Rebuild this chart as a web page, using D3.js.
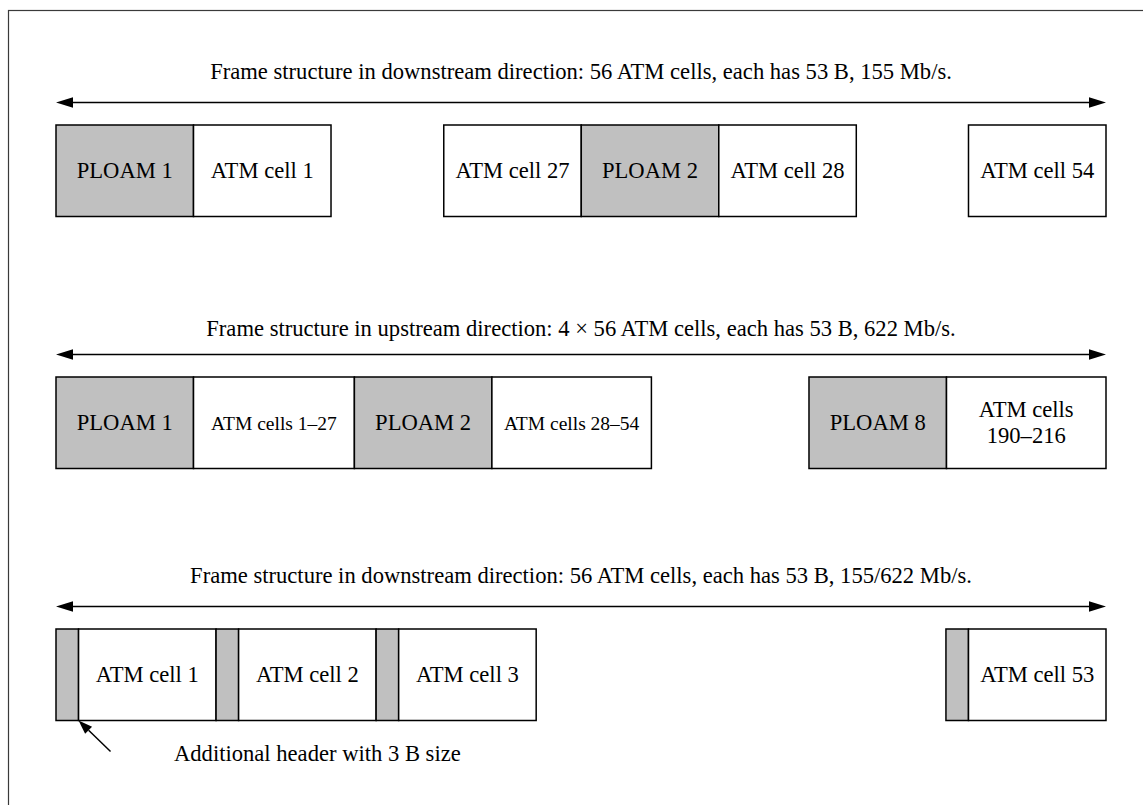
<!DOCTYPE html>
<html>
<head>
<meta charset="utf-8">
<script src="https://cdn.jsdelivr.net/npm/d3@7"></script>
<style>
  html, body { margin: 0; padding: 0; background: #fff; }
  svg { display: block; font-family: "Liberation Serif", "Times New Roman", serif; }
</style>
</head>
<body>
<div id="frames"></div>
<script>
// frame structure diagram: three rows of cells, widths in "cell" units (one ATM cell = 1)

const rowTitles = [
  'Frame structure in downstream direction: 56 ATM cells, each has 53 B, 155 Mb/s.',
  'Frame structure in upstream direction: 4 \u00d7 56 ATM cells, each has 53 B, 622 Mb/s.',
  'Frame structure in downstream direction: 56 ATM cells, each has 53 B, 155/622 Mb/s.',
];

// kind: p = PLOAM / header (grey), c = cell (white), g = gap (nothing drawn)
const row1Labels = ['PLOAM 1', 'ATM cell 1', '', 'ATM cell 27', 'PLOAM 2', 'ATM cell 28', '', 'ATM cell 54'];
const row1Kinds = ['p', 'c', 'g', 'c', 'p', 'c', 'g', 'c'];
const row1Widths = [1, 1, 0.82, 1, 1, 1, 0.816, 1];

const row2Labels = ['PLOAM 1', 'ATM cells 1\u201327', 'PLOAM 2', 'ATM cells 28\u201354', '', 'PLOAM 8', 'ATM cells|190\u2013216'];
const row2Kinds = ['p', 'c', 'p', 'c', 'g', 'p', 'c'];
const row2Widths = [1, 1.17, 1, 1.16, 1.146, 1, 1.16];

const row3Labels = ['', 'ATM cell 1', '', 'ATM cell 2', '', 'ATM cell 3', '', '', 'ATM cell 53'];
const row3Kinds = ['p', 'c', 'p', 'c', 'p', 'c', 'g', 'p', 'c'];
const row3Widths = [0.164, 1, 0.164, 1, 0.164, 1, 2.98, 0.164, 1];

const noteText = 'Additional header with 3 B size';

const W = 1143, H = 805;
const totalUnits = d3.sum(row1Widths);
const x = d3.scaleLinear().domain([0, totalUnits]).range([56, 1106]);
const y = d3.scaleLinear().domain([0, 2]).range([125, 629]);
const boxH = 91.5;
const fs = 22.6;

const svg = d3.select('#frames').append('svg')
  .attr('width', W)
  .attr('height', H);

// outer border (runs off the right and bottom edges)
svg.append('rect')
  .attr('x', 8.5).attr('y', 10.5)
  .attr('width', 1200).attr('height', 900)
  .attr('fill', 'none')
  .attr('stroke', '#3a3a3a')
  .attr('stroke-width', 1.2);

function buildRow(labels, kinds, widths) {
  let acc = 0;
  return labels.map((label, i) => {
    const seg = { label: label, kind: kinds[i], start: acc, width: widths[i] };
    acc += widths[i];
    return seg;
  });
}

const rows = [
  buildRow(row1Labels, row1Kinds, row1Widths),
  buildRow(row2Labels, row2Kinds, row2Widths),
  buildRow(row3Labels, row3Kinds, row3Widths),
];

function arrowHead(g, tipX, tipY, dir) {
  // dir = -1 points left, +1 points right
  const len = 17, half = 5.2;
  g.append('path')
    .attr('d', 'M' + tipX + ',' + tipY +
      'L' + (tipX - dir * len) + ',' + (tipY - half) +
      'L' + (tipX - dir * len) + ',' + (tipY + half) + 'Z')
    .attr('fill', '#000');
}

rows.forEach((segs, r) => {
  const top = y(r);
  const g = svg.append('g');

  // title
  g.append('text')
    .attr('x', (x(0) + x(totalUnits)) / 2)
    .attr('y', top - (r === 1 ? 41 : 46.5))
    .attr('text-anchor', 'middle')
    .attr('font-size', fs)
    .attr('fill', '#000')
    .text(rowTitles[r]);

  // double-headed arrow
  const ay = top - 22.5;
  g.append('line')
    .attr('x1', x(0) + 10).attr('x2', x(totalUnits) - 10)
    .attr('y1', ay).attr('y2', ay)
    .attr('stroke', '#000')
    .attr('stroke-width', 1.5);
  arrowHead(g, x(0), ay, -1);
  arrowHead(g, x(totalUnits), ay, 1);

  const boxes = segs.filter(d => d.kind !== 'g');
  g.selectAll('rect.seg')
    .data(boxes)
    .join('rect')
    .attr('class', 'seg')
    .attr('x', d => x(d.start))
    .attr('y', top)
    .attr('width', d => x(d.start + d.width) - x(d.start))
    .attr('height', boxH)
    .attr('fill', d => d.kind === 'p' ? '#c0c0c0' : '#fff')
    .attr('stroke', '#000')
    .attr('stroke-width', 1.5);

  const mid = top + boxH / 2;
  boxes.filter(d => d.label).forEach(d => {
    const lines = d.label.split('|');
    const cx = x(d.start + d.width / 2);
    const small = d.label.indexOf('cells ') >= 0 && lines.length === 1;
    const t = g.append('text')
      .attr('text-anchor', 'middle')
      .attr('font-size', small ? 19.5 : fs)
      .attr('fill', '#000');
    lines.forEach((ln, k) => {
      t.append('tspan')
        .attr('x', cx)
        .attr('y', mid + 7.5 + (k - (lines.length - 1) / 2) * 26)
        .text(ln);
    });
  });
});

// pointer to the first 3 B header
const hdr = rows[2][0];
const tipX = x(hdr.start + hdr.width), tipY = y(2) + boxH;
const fromX = tipX + 32, fromY = tipY + 31;
const ang = Math.atan2(fromY - tipY, fromX - tipX);
const hl = 14, hw = 5;
const bx = tipX + Math.cos(ang) * hl, by = tipY + Math.sin(ang) * hl;
svg.append('line')
  .attr('x1', fromX).attr('y1', fromY)
  .attr('x2', bx).attr('y2', by)
  .attr('stroke', '#000')
  .attr('stroke-width', 1.5);
svg.append('path')
  .attr('d', 'M' + tipX + ',' + tipY +
    'L' + (bx - Math.sin(ang) * hw) + ',' + (by + Math.cos(ang) * hw) +
    'L' + (bx + Math.sin(ang) * hw) + ',' + (by - Math.cos(ang) * hw) + 'Z')
  .attr('fill', '#000');

svg.append('text')
  .attr('x', 174)
  .attr('y', 761)
  .attr('font-size', fs)
  .attr('fill', '#000')
  .text(noteText);
</script>
</body>
</html>
